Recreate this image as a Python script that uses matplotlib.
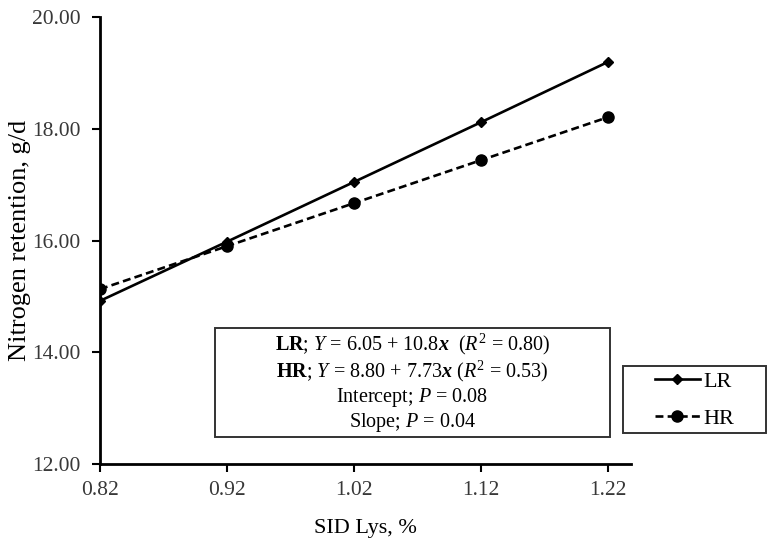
import matplotlib
matplotlib.use("Agg")
import matplotlib.pyplot as plt
from matplotlib.patches import Rectangle

# SID Lys levels and N retention for the two groups
lys = [0.82, 0.92, 1.02, 1.12, 1.22]
lr_vals = [14.92, 15.98, 17.05, 18.12, 19.20]
hr_vals = [15.13, 15.90, 16.67, 17.44, 18.21]
yticks = [12, 14, 16, 18, 20]

plt.rcParams['font.family'] = ['Liberation Serif', 'DejaVu Serif']
plt.rcParams['mathtext.fontset'] = 'custom'
plt.rcParams['mathtext.rm'] = 'Liberation Serif'
plt.rcParams['mathtext.it'] = 'Liberation Serif:italic'
plt.rcParams['mathtext.bf'] = 'Liberation Serif:bold'
plt.rcParams['mathtext.bfit'] = 'Liberation Serif:italic:bold'

fig = plt.figure(figsize=(7.72, 5.47), dpi=100)
ax = fig.add_axes([0.1295, 0.1517, 0.688, 0.817])

l1, = ax.plot(lys, lr_vals, color='black', lw=1.9, marker='D', ms=5, label='LR')
l2, = ax.plot(lys, hr_vals, color='black', lw=1.9, ls=(0, (3, 1.6)), marker='o', ms=8, label='HR')

ax.set_xlim(0.82, 1.238)
ax.set_ylim(12, 20)
ax.set_xticks(lys)
ax.set_xticklabels([f"{v:.2f}" for v in lys])
ax.set_yticks(yticks)
ax.set_yticklabels([f"{v:.2f}" for v in yticks])

for s in ['top', 'right']:
    ax.spines[s].set_visible(False)
for s in ['left', 'bottom']:
    ax.spines[s].set_linewidth(2)
    ax.spines[s].set_color('black')
ax.tick_params(axis='both', labelsize=15.5, colors='black', width=1.5, length=6, labelcolor='#383838')
ax.tick_params(axis='x', pad=6)
ax.tick_params(axis='y', pad=8)

ax.set_xlabel('SID Lys, %', fontsize=16, labelpad=14)
ax.set_ylabel('Nitrogen retention, g/d', fontsize=19, labelpad=1)

# regression summary box
ax.add_patch(Rectangle((0.2166, 0.060), 0.7434, 0.244, transform=ax.transAxes,
                       facecolor='white', edgecolor='#333333', lw=1.4, zorder=5))
box_txt = ("$\\mathbf{LR}$; $Y$ = 6.05 + 10.8$\\mathbfit{x}$  ($R^2$ = 0.80)\n"
           "$\\mathbf{HR}$; $Y$ = 8.80 + 7.73$\\mathbfit{x}$ ($R^2$ = 0.53)\n"
           "Intercept; $P$ = 0.08\n"
           "Slope; $P$ = 0.04")
ax.text(0.588, 0.182, box_txt, transform=ax.transAxes, ha='center', va='center',
        fontsize=14.5, linespacing=1.12, color='black', zorder=6)

# legend: frame drawn separately so its size matches the reference
fig.patches.append(Rectangle((623 / 772, 1 - 433 / 547), 143 / 772, 67 / 547,
                             transform=fig.transFigure, facecolor='white',
                             edgecolor='#333333', lw=1.4, zorder=2))
leg = fig.legend(handles=[l1, l2], loc='center', bbox_to_anchor=(694.5 / 772, 1 - 400 / 547),
                 fontsize=16, frameon=False, handlelength=2.0, borderpad=0.2,
                 labelspacing=0.75, handletextpad=0.15, borderaxespad=0)
leg.set_zorder(6)

fig.savefig('out.png', dpi=100)
